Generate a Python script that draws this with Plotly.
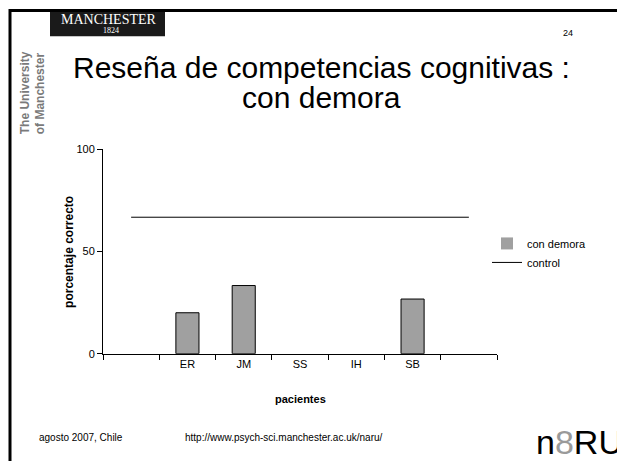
import plotly.graph_objects as go

# data
pacientes = [" ", "ER", "JM", "SS", "IH", "SB", "  "]
con_demora = [None, 20, 33.3, 0, 0, 26.7, None]
control = [66.7, 66.7, 66.7, 66.7, 66.7, 66.7, 66.7]

# the page body has an 8px margin, so the figure is a bit smaller;
# the photo also squeezes the page a little in height (measured)
OFF = 8
W, H = 625 - OFF, 461 - OFF
YS, Y0 = 0.9756, 4.8
FONT = "Arial, Liberation Sans, sans-serif"


def px(x):
    return (x - OFF) / W


def py(y):
    return 1 - ((y - Y0) / YS - OFF) / H


def note(x, y, text, **kw):
    fig.add_annotation(x=px(x), y=py(y), xref="paper", yref="paper",
                       xanchor=kw.pop("xanchor", "center"), yanchor="middle",
                       text=text, showarrow=False, **kw)


fig = go.Figure()

fig.add_trace(go.Bar(x=pacientes, y=con_demora, name="con demora",
                     width=0.41,
                     marker=dict(color="#a0a0a0",
                                 line=dict(color="black",
                                           width=[1 if v else 0 for v in con_demora]))))
fig.add_trace(go.Scatter(x=pacientes, y=control, mode="lines", name="control",
                         line=dict(color="black", width=1)))

fig.update_layout(
    width=W, height=H,
    margin=dict(l=0, r=0, t=0, b=0),
    paper_bgcolor="white", plot_bgcolor="white",
    font=dict(family=FONT, color="black", size=11),
    showlegend=True,
    legend=dict(x=px(487), y=py(228), xanchor="left", yanchor="top",
                font=dict(size=11), bgcolor="rgba(0,0,0,0)",
                itemwidth=30, tracegroupgap=0),
    xaxis=dict(domain=[px(103), px(497)], type="category",
               categoryorder="array", categoryarray=pacientes,
               range=[-0.5, 6.5], tickson="boundaries", ticks="outside",
               ticklen=5, tickcolor="black", showline=True, linecolor="black",
               linewidth=1, showgrid=False, zeroline=False,
               tickfont=dict(size=11)),
    yaxis=dict(domain=[py(353), py(148)], range=[0, 100],
               tickvals=[0, 50, 100], ticks="outside", ticklen=5,
               tickcolor="black", showline=True, linecolor="black",
               linewidth=1, showgrid=False, zeroline=False,
               tickfont=dict(size=11)),
)

# axis titles
note(300, 398, "<b>pacientes</b>", font=dict(size=11))
note(69, 251, "<b>porcentaje correcto</b>", textangle=-90, font=dict(size=12))

# slide title
note(321, 66, "Reseña de competencias cognitivas :", font=dict(size=30))
note(321, 96, "con demora", font=dict(size=30))
note(568, 32, "24", font=dict(size=9))

# footer
note(81, 437, "agosto 2007, Chile", font=dict(size=10))
note(284, 437, "http://www.psych-sci.manchester.ac.uk/naru/", font=dict(size=10))
note(625, 442, "n<span style='color:#9a9a9a'>8</span>RU", xanchor="right",
     font=dict(size=34, family="Liberation Sans Narrow, Arial Narrow, sans-serif"))

# logos
fig.add_shape(type="rect", xref="paper", yref="paper",
              x0=px(50), x1=px(165), y0=py(35), y1=py(8),
              fillcolor="#1a1a1a", line=dict(width=0))
note(109, 18, "MANCHESTER",
     font=dict(size=14, color="white", family="Liberation Serif, DejaVu Serif, serif"))
note(111, 29, "1824",
     font=dict(size=8, color="white", family="Liberation Serif, DejaVu Serif, serif"))
note(33, 92, "<b>The University<br>of Manchester</b>", textangle=-90, align="left",
     font=dict(size=12, color="#7a7a7a",
               family="Liberation Sans Narrow, Arial Narrow, sans-serif"))

# slide border
fig.add_shape(type="rect", xref="paper", yref="paper",
              x0=px(10), x1=px(619), y0=-0.05, y1=py(9),
              line=dict(color="black", width=3), layer="above")

fig.write_html("out.html")
